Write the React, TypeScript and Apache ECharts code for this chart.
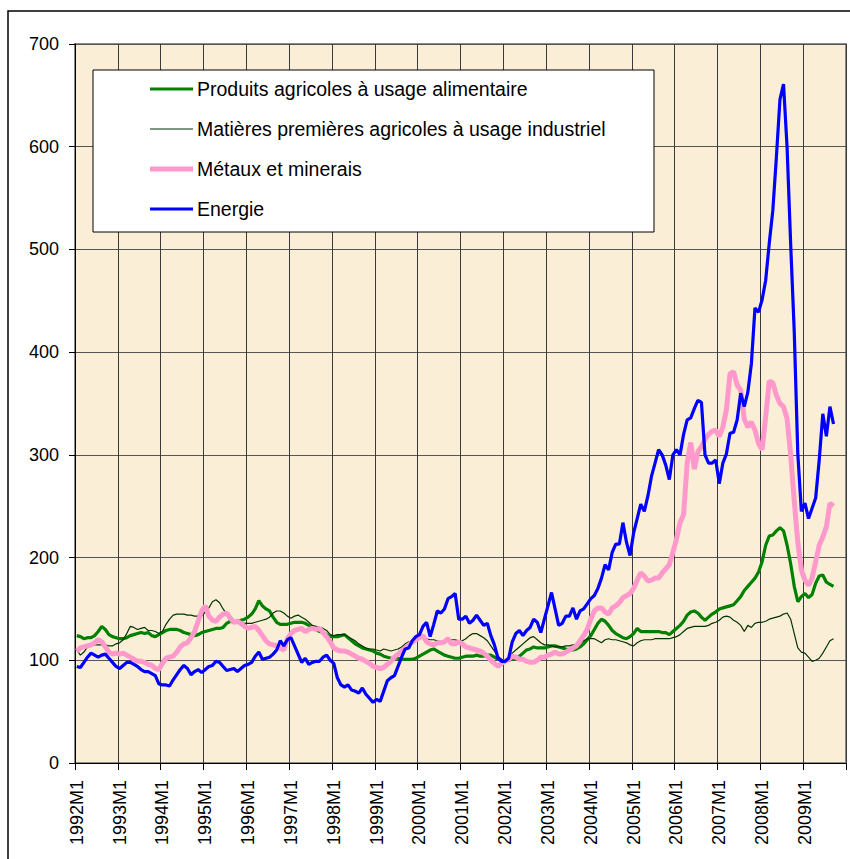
import React, { useEffect, useRef } from "react";
import * as echarts from "echarts";

const years = [1992, 1993, 1994, 1995, 1996, 1997, 1998, 1999, 2000, 2001, 2002, 2003, 2004, 2005, 2006, 2007, 2008, 2009];
const months = [1, 2, 3, 4, 5, 6, 7, 8, 9, 10, 11, 12];
const categories: string[] = [];
years.forEach((y) => months.forEach((m) => categories.push(`${y}M${m}`)));

const seriesNames = [
  "Produits agricoles à usage alimentaire",
  "Matières premières agricoles à usage industriel",
  "Métaux et minerais",
  "Energie",
];

const food = [
  124, 123, 121, 122, 122, 124, 128, 133, 130, 125, 123, 122,
  121, 121, 122, 124, 125, 126, 127, 126, 127, 124, 123, 125,
  127, 129, 130, 130, 130, 129, 127, 126, 125, 124, 125, 127,
  128, 129, 130, 131, 131, 132, 136, 138, 137, 137, 139, 140,
  142, 145, 150, 158, 153, 150, 148, 142, 137, 135, 135, 135,
  136, 137, 137, 137, 136, 134, 132, 130, 128, 127, 125, 123,
  123, 123, 124, 125, 122, 119, 116, 114, 112, 111, 110, 109,
  107, 106, 104, 103, 102, 102, 102, 101, 101, 101, 101, 102,
  104, 106, 108, 110, 111, 109, 107, 105, 104, 103, 102, 102,
  103, 104, 104, 104, 105, 104, 104, 105, 105, 103, 101, 100,
  99, 100, 101, 102, 104, 107, 110, 111, 113, 112, 112, 112,
  113, 114, 114, 113, 112, 111, 110, 110, 111, 113, 116, 120,
  124, 130, 136, 140, 138, 134, 129, 126, 124, 122, 121, 123,
  126, 131, 128, 128, 128, 128, 128, 128, 127, 127, 125, 128,
  131, 134, 138, 144, 147, 148, 146, 142, 139, 142, 145, 147,
  150, 151, 152, 153, 154, 158, 162, 168, 172, 176, 180, 186,
  196, 212, 221, 222, 226, 229, 226, 212, 194, 172, 157, 162,
  165, 161, 164, 175, 182, 183, 176, 174, 172,
];

const industrial = [
  110, 105, 108, 113, 115, 115, 115, 115, 115, 114, 114, 116,
  117, 120, 126, 133, 132, 130, 131, 132, 129, 129, 128, 126,
  128, 135, 140, 144, 145, 145, 145, 144, 144, 143, 143, 143,
  147, 151, 157, 159, 156, 150, 145, 141, 139, 138, 137, 136,
  136, 136, 137, 138, 139, 140, 142, 146, 148, 148, 146, 143,
  141, 143, 144, 142, 140, 137, 134, 133, 132, 131, 129, 125,
  124, 125, 125, 125, 123, 121, 119, 116, 114, 112, 111, 111,
  110, 109, 111, 110, 109, 110, 111, 113, 116, 118, 119, 121,
  121, 122, 121, 120, 120, 119, 118, 118, 119, 120, 120, 119,
  119, 121, 124, 126, 126, 124, 122, 119, 114, 109, 104, 101,
  100, 103, 107, 110, 113, 116, 119, 122, 123, 120, 117, 115,
  115, 114, 113, 113, 113, 114, 114, 115, 115, 116, 119, 121,
  121, 121, 119, 117, 120, 121, 120, 120, 119, 118, 117, 115,
  114, 117, 119, 120, 120, 120, 121, 121, 121, 121, 121, 122,
  123, 125, 128, 131, 132, 133, 133, 133, 133, 134, 136, 137,
  139, 142, 143, 142, 139, 137, 134, 128, 134, 132, 136, 137,
  137, 138, 140, 141, 142, 143, 145, 146, 140, 126, 112, 108,
  107, 103, 99, 100, 102, 107, 113, 119, 121,
];

const metals = [
  109, 112, 113, 114, 115, 117, 120, 118, 113, 108, 106, 107,
  106, 107, 105, 103, 101, 99, 99, 98, 96, 95, 92, 91,
  97, 102, 103, 104, 108, 113, 116, 117, 122, 128, 138, 148,
  153, 143, 139, 138, 142, 145, 146, 141, 137, 138, 136, 133,
  131, 132, 133, 129, 124, 119, 116, 115, 114, 112, 110, 121,
  126, 129, 130, 131, 128, 130, 131, 130, 131, 127, 123, 118,
  112, 110, 109, 109, 108, 106, 104, 102, 101, 99, 97, 94,
  93, 92, 93, 96, 99, 103, 106, 109, 112, 115, 118, 120,
  122, 124, 118, 116, 115, 117, 117, 118, 121, 116, 116, 118,
  116, 113, 112, 111, 110, 109, 107, 104, 100, 97, 94, 97,
  99, 101, 104, 103, 101, 101, 99, 98, 98, 100, 103, 103,
  105, 106, 108, 106, 106, 108, 110, 112, 114, 119, 124, 130,
  140, 148, 151, 151, 147, 145, 151, 153, 156, 161, 163, 165,
  170, 178, 185, 182, 177, 178, 180, 180, 185, 189, 193, 205,
  218, 234, 242, 292, 312, 286, 303, 308, 315, 320, 323, 324,
  318, 327, 344, 379, 381, 368, 363, 335, 327, 332, 324, 311,
  305, 337, 372, 370, 358, 350, 347, 335, 300, 255, 215, 188,
  178, 173, 180, 196, 212, 220, 230, 253, 250,
];

const energy = [
  94, 93, 98, 103, 107, 105, 103, 105, 106, 102, 98, 94,
  92, 95, 98, 98, 96, 94, 91, 89, 89, 87, 85, 77,
  76, 76, 75, 81, 86, 91, 95, 92, 86, 89, 91, 88,
  91, 94, 95, 99, 98, 94, 90, 91, 92, 89, 92, 95,
  96, 98, 104, 108, 101, 102, 103, 106, 110, 119, 114, 120,
  122, 114, 106, 98, 102, 96, 98, 99, 99, 103, 105, 100,
  97, 83, 76, 74, 76, 71, 70, 68, 73, 67, 63, 59,
  62, 60, 70, 80, 83, 85, 94, 103, 111, 112, 119, 123,
  125, 133, 137, 123, 135, 148, 146, 150, 160, 162, 165, 140,
  140, 143, 136, 139, 144, 139, 134, 136, 124, 115, 102, 99,
  99, 102, 118, 126, 129, 124, 129, 132, 140, 137, 127, 140,
  153, 166, 150, 134, 136, 143, 143, 151, 140, 148, 150, 155,
  160, 163, 170, 180, 193, 188, 205, 213, 213, 234, 215, 202,
  224, 238, 252, 245, 260, 279, 292, 305, 300, 290, 276, 300,
  305, 300, 320, 334, 336, 345, 353, 351, 300, 292, 292, 295,
  272, 292, 301, 321, 322, 334, 360, 347, 361, 389, 443, 439,
  451, 470, 506, 538, 590, 646, 661, 599, 505, 420, 301, 245,
  253, 238, 248, 258, 295, 340, 318, 347, 330,
];

const colors = ["#008000", "#003300", "#FF99CC", "#0000FF"];
const widths = [3.2, 1.2, 5, 3.2];
const valuesList = [food, industrial, metals, energy];

const FONT = 'Arial, "Liberation Sans", sans-serif';

export default function App() {
  const ref = useRef<HTMLDivElement>(null);
  useEffect(() => {
    if (!ref.current) return;
    const chart = echarts.init(ref.current, undefined, { renderer: "svg" });

    const legendItems: any[] = [];
    seriesNames.forEach((name, i) => {
      const y = 89 + i * 40;
      legendItems.push({
        type: "line",
        z: 4,
        silent: true,
        shape: { x1: 150, y1: y, x2: 193, y2: y },
        style: { stroke: colors[i], lineWidth: widths[i] },
      });
      legendItems.push({
        type: "text",
        z: 4,
        silent: true,
        x: 197,
        y,
        style: {
          text: name,
          fill: "#000",
          font: `19.5px ${FONT}`,
          verticalAlign: "middle",
          align: "left",
        },
      });
    });

    chart.setOption({
      animation: false,
      backgroundColor: "#ffffff",
      textStyle: { fontFamily: FONT },
      grid: {
        left: 75,
        top: 44,
        right: 4,
        bottom: 96,
        show: true,
        backgroundColor: "#FAEFD6",
        borderColor: "#8c8c8c",
        borderWidth: 2,
      },
      graphic: [
        {
          type: "rect",
          z: -10,
          shape: { x: 8, y: 11, width: 900, height: 900 },
          style: { fill: "none", stroke: "#000", lineWidth: 1.5 },
          silent: true,
        },
        {
          type: "rect",
          z: 3,
          shape: { x: 93, y: 70, width: 561, height: 162 },
          style: { fill: "#ffffff", stroke: "#000", lineWidth: 1 },
          silent: true,
        },
        ...legendItems,
      ],
      xAxis: {
        type: "category",
        data: categories,
        boundaryGap: true,
        axisLine: { show: true, lineStyle: { color: "#000", width: 1 } },
        axisTick: {
          show: true,
          interval: 11,
          length: 7,
          lineStyle: { color: "#000" },
        },
        axisLabel: {
          interval: 11,
          rotate: 90,
          margin: 17,
          fontSize: 18,
          color: "#000",
          fontFamily: FONT,
        },
        splitLine: {
          show: true,
          interval: 11,
          lineStyle: { color: "#3a3a3a", width: 1 },
        },
      },
      yAxis: {
        type: "value",
        min: 0,
        max: 700,
        interval: 100,
        axisLine: { show: true, lineStyle: { color: "#000", width: 1 } },
        axisTick: { show: true, length: 6, lineStyle: { color: "#000" } },
        axisLabel: { fontSize: 18, color: "#000", margin: 16, fontFamily: FONT },
        splitLine: { show: true, lineStyle: { color: "#555", width: 1 } },
      },
      series: seriesNames.map((name, i) => ({
        name,
        type: "line",
        data: valuesList[i],
        symbol: "none",
        showSymbol: false,
        smooth: false,
        z: 2,
        lineStyle: { color: colors[i], width: widths[i] },
        itemStyle: { color: colors[i] },
      })),
    });
    return () => chart.dispose();
  }, []);
  return (
    <div
      ref={ref}
      style={{ position: "fixed", left: 0, top: 0, width: 850, height: 859, background: "#fff" }}
    />
  );
}
